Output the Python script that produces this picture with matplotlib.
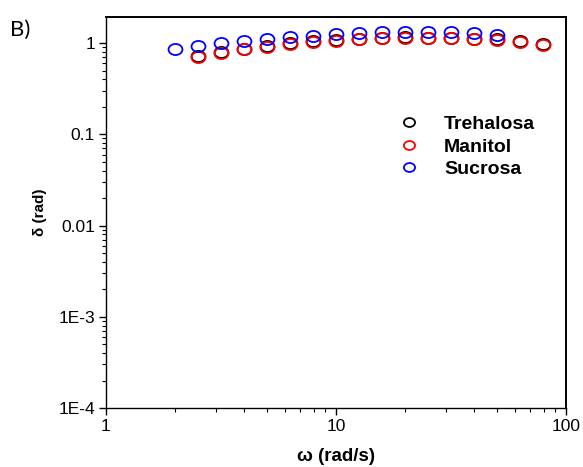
import matplotlib.pyplot as plt
from matplotlib.path import Path
from matplotlib.transforms import Affine2D
from matplotlib.ticker import LogLocator, FixedLocator, FixedFormatter, NullFormatter

# angular frequency (rad/s)
omega = [2.0, 2.51, 3.16, 3.98, 5.01, 6.31, 7.94, 10.0, 12.59, 15.85,
         19.95, 25.12, 31.62, 39.81, 50.12, 63.1, 79.43]

# phase angle delta (rad) for each formulation
trehalosa = [None, 0.73, 0.79, 0.87, 0.93, 0.99, 1.04, 1.08, 1.12, 1.15,
             1.16, 1.15, 1.15, 1.12, 1.10, 1.05, 0.98]
manitol = [None, 0.71, 0.77, 0.85, 0.91, 0.97, 1.02, 1.06, 1.10, 1.13,
           1.14, 1.13, 1.13, 1.10, 1.08, 1.03, 0.95]
sucrosa = [0.86, 0.93, 0.99, 1.05, 1.10, 1.17, 1.20, 1.25, 1.28, 1.31,
           1.32, 1.32, 1.33, 1.28, 1.22, None, None]

y_ticks = [1e-4, 1e-3, 1e-2, 1e-1, 1]
y_labels = ['1E-4', '1E-3', '0.01', '0.1', '1']
x_ticks = [1, 10, 100]
x_labels = ['1', '10', '100']


def series(xs, ys):
    pts = [(x, y) for x, y in zip(xs, ys) if y is not None]
    return [p[0] for p in pts], [p[1] for p in pts]


def main() -> None:
    plt.rcParams['font.family'] = ['Liberation Sans', 'DejaVu Sans']

    fig = plt.figure(figsize=(5.83, 4.67), dpi=100)
    ax = fig.add_axes([0.1818, 0.1263, 0.789, 0.8373])

    # slightly wide open ellipse as marker
    ellipse = Path.unit_circle().transformed(Affine2D().scale(1.25, 1.0))

    mk = dict(marker=ellipse, linestyle='none', markersize=10,
              markerfacecolor='none', markeredgewidth=1.3)
    ax.plot(*series(omega, trehalosa), markeredgecolor='black', label='Trehalosa', **mk)
    ax.plot(*series(omega, manitol), markeredgecolor='#ff0000', label='Manitol', **mk)
    ax.plot(*series(omega, sucrosa), markeredgecolor='#0000ff', label='Sucrosa', **mk)

    ax.set_xscale('log')
    ax.set_yscale('log')
    ax.set_xlim(1, 100)
    ax.set_ylim(1e-4, 1.93)

    ax.xaxis.set_major_locator(FixedLocator(x_ticks))
    ax.xaxis.set_major_formatter(FixedFormatter(x_labels))
    ax.yaxis.set_major_locator(FixedLocator(y_ticks))
    ax.yaxis.set_major_formatter(FixedFormatter(y_labels))
    ax.xaxis.set_minor_locator(LogLocator(base=10, subs=range(2, 10)))
    ax.yaxis.set_minor_locator(LogLocator(base=10, subs=range(2, 10)))
    ax.xaxis.set_minor_formatter(NullFormatter())
    ax.yaxis.set_minor_formatter(NullFormatter())

    ax.tick_params(which='major', direction='out', length=5, width=1,
                   labelsize=12.5, top=False, right=False, pad=3)
    ax.tick_params(which='minor', direction='out', length=3, width=0.8,
                   top=False, right=False)
    for side in ['left', 'bottom']:
        ax.spines[side].set_linewidth(1.0)
    for side in ['top', 'right']:
        ax.spines[side].set_linewidth(1.4)

    ax.set_xlabel('\u03c9 (rad/s)', fontsize=13.5, fontweight='bold', labelpad=10)
    ax.set_ylabel('\u03b4 (rad)', fontsize=11, fontweight='bold', labelpad=8)

    ax.legend(loc='upper left', bbox_to_anchor=(0.6, 0.768), frameon=False,
              prop=dict(size=14, weight='bold'), handletextpad=0.8,
              labelspacing=0.25, borderaxespad=0, markerscale=0.8,
              handlelength=2.0)

    fig.text(0.017, 0.924, 'B)', fontsize=16, family='Lato')

    plt.savefig('out.png', dpi=100)


if __name__ == '__main__':
    main()
